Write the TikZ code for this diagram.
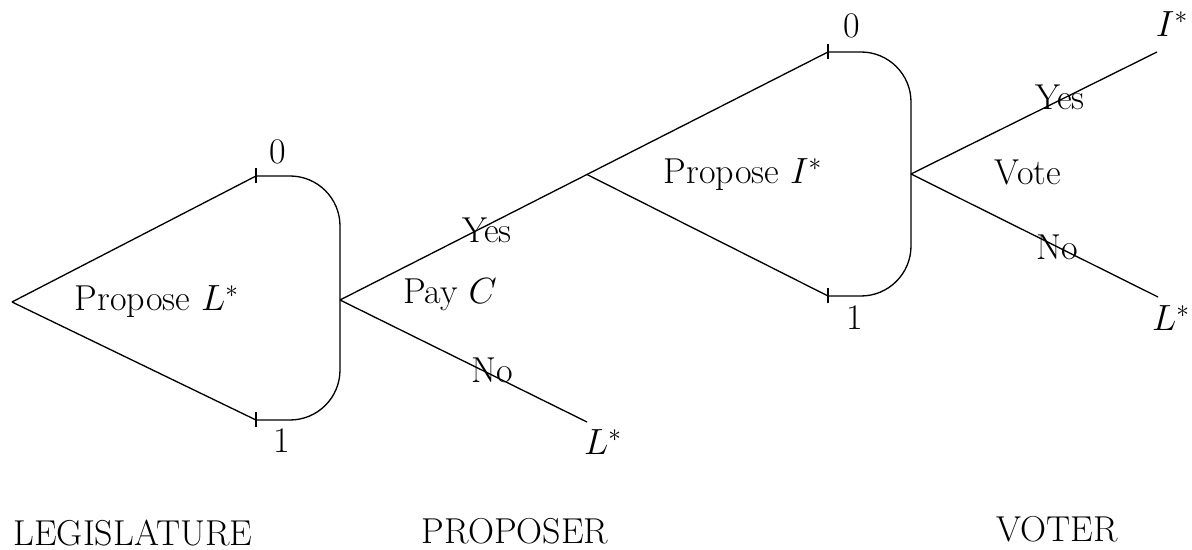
\documentclass[tikz,border=0pt]{standalone}
\usepackage{amsmath,amssymb,amsfonts}
\usepackage{tikz}

\begin{document}
\begin{tikzpicture}[line width=0.75pt, every node/.style={font=\fontsize{20.5}{24}\selectfont}, stage/.style={rounded corners=1cm}]
\useasboundingbox (0,0) rectangle (23.84,11);
\coordinate (leg) at (0.24,4.96);
\coordinate (legtop) at (5.12,7.48);
\coordinate (legbot) at (5.12,2.60);
\coordinate (prop) at (6.80,5.00);
\coordinate (propI) at (11.74,7.51);
\coordinate (nopay) at (11.74,2.56);
\coordinate (itop) at (16.56,9.96);
\coordinate (ibot) at (16.56,5.08);
\coordinate (vote) at (18.22,7.52);
\coordinate (yesend) at (23.14,9.96);
\coordinate (noend) at (23.16,5.06);

\draw (leg) -- (legtop);
\draw (leg) -- (legbot);
\draw[stage] (legtop) -| (prop) |- (legbot);
\draw (prop) -- (itop);
\draw (propI) -- (ibot);
\draw (prop) -- (nopay);
\draw[stage] (itop) -| (vote) |- (ibot);
\draw (vote) -- (yesend);
\draw (vote) -- (noend);
\foreach \p in {legtop,legbot,itop,ibot}
  \draw (\p) ++(0,-0.15) -- ++(0,0.3);

\node (zeroL) at (5.56,7.96) {0};
\node (oneL) at (5.64,2.18) {1};
\node (propL) at (3.14,4.96) {Propose $L^*$};
\node (yesP) at (9.74,6.40) {Yes};
\node (payC) at (9.00,5.10) {Pay $C$};
\node (noP) at (9.84,3.60) {No};
\node (outL) at (12.06,2.16) {$L^*$};
\node (propIs) at (14.86,7.50) {Propose $I^*$};
\node (zeroR) at (17.04,10.48) {0};
\node (oneR) at (17.10,4.64) {1};
\node (yesV) at (21.20,9.06) {Yes};
\node (voteV) at (20.56,7.56) {Vote};
\node (noV) at (21.14,6.06) {No};
\node (outI) at (23.44,10.52) {$I^*$};
\node (outLV) at (23.42,4.64) {$L^*$};
\node (legis) at (2.66,0.34) {LEGISLATURE};
\node (propo) at (10.30,0.38) {PROPOSER};
\node (voter) at (21.14,0.42) {VOTER};
\end{tikzpicture}
\end{document}
